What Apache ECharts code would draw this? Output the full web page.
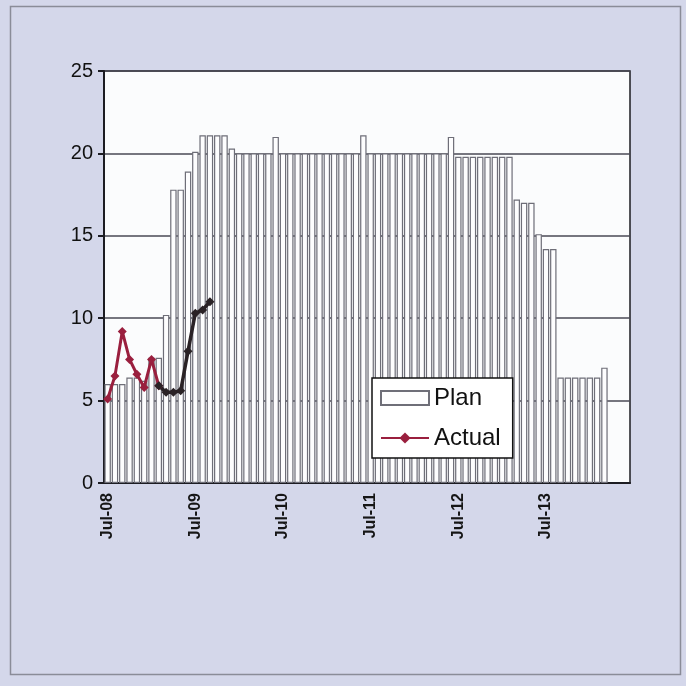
<!DOCTYPE html>
<html>
<head>
<meta charset="utf-8">
<script src="https://cdn.jsdelivr.net/npm/echarts@6/dist/echarts.min.js"></script>
<style>
html,body{margin:0;padding:0;background:#d4d7ea;}
#c{width:686px;height:686px;}
</style>
</head>
<body>
<div id="c"></div>
<script>
const months = [
 'Jul-08','Aug-08','Sep-08','Oct-08','Nov-08','Dec-08','Jan-09','Feb-09','Mar-09','Apr-09','May-09','Jun-09',
 'Jul-09','Aug-09','Sep-09','Oct-09','Nov-09','Dec-09','Jan-10','Feb-10','Mar-10','Apr-10','May-10','Jun-10',
 'Jul-10','Aug-10','Sep-10','Oct-10','Nov-10','Dec-10','Jan-11','Feb-11','Mar-11','Apr-11','May-11','Jun-11',
 'Jul-11','Aug-11','Sep-11','Oct-11','Nov-11','Dec-11','Jan-12','Feb-12','Mar-12','Apr-12','May-12','Jun-12',
 'Jul-12','Aug-12','Sep-12','Oct-12','Nov-12','Dec-12','Jan-13','Feb-13','Mar-13','Apr-13','May-13','Jun-13',
 'Jul-13','Aug-13','Sep-13','Oct-13','Nov-13','Dec-13','Jan-14','Feb-14','Mar-14','Apr-14','May-14','Jun-14'
];
const plan = [
 6.0, 6.0, 6.0, 6.4, 6.4, 6.2, 7.6, 7.6, 10.2, 17.8, 17.8, 18.9,
 20.1, 21.1, 21.1, 21.1, 21.1, 20.3, 20.0, 20.0, 20.0, 20.0, 20.0, 21.0,
 20.0, 20.0, 20.0, 20.0, 20.0, 20.0, 20.0, 20.0, 20.0, 20.0, 20.0, 21.1,
 20.0, 20.0, 20.0, 20.0, 20.0, 20.0, 20.0, 20.0, 20.0, 20.0, 20.0, 21.0,
 19.8, 19.8, 19.8, 19.8, 19.8, 19.8, 19.8, 19.8, 17.2, 17.0, 17.0, 15.1,
 14.2, 14.2, 6.4, 6.4, 6.4, 6.4, 6.4, 6.4, 7.0
];
// Actual values, month by month from Jul-08
const actual = [5.1, 6.5, 9.2, 7.5, 6.6, 5.8, 7.5, 5.9, 5.5, 5.5, 5.6, 8.0, 10.3, 10.5, 11.0];
// In the print the first stretch of the Actual line is maroon, the rest is almost black
const actualRedEnd = 7;
const yTicks = [0, 5, 10, 15, 20, 25];
const labelMonths = ['Jul-08','Jul-09','Jul-10','Jul-11','Jul-12','Jul-13'];

const actualRed = actual.map((v, i) => i <= actualRedEnd ? v : null);
const actualDark = actual.map((v, i) => i >= actualRedEnd ? v : null);

const FONT = 'Liberation Sans, Arial, sans-serif';
const chart = echarts.init(document.getElementById('c'));
chart.setOption({
  animation: false,
  backgroundColor: '#d4d7ea',
  textStyle: {fontFamily: FONT},
  graphic: [{
    type: 'rect', left: 8, top: 4, shape: {width: 670, height: 668},
    style: {fill: 'none', stroke: '#8a8c98', lineWidth: 1.5}, silent: true, z: -1
  }],
  grid: {
    left: 104, right: 56, top: 71, bottom: 203,
    show: true, backgroundColor: '#fbfcfd', borderColor: '#1c1c22', borderWidth: 1.5
  },
  legend: {
    orient: 'vertical', left: 372, top: 378,
    padding: [8, 12, 8, 8], backgroundColor: '#ffffff',
    borderColor: '#111', borderWidth: 1.5,
    itemWidth: 48, itemHeight: 14, itemGap: 16,
    textStyle: {fontSize: 24, color: '#111', fontFamily: FONT},
    data: [
      {name: 'Plan', icon: 'rect'},
      {name: 'Actual'}
    ]
  },
  xAxis: {
    type: 'category', data: months,
    boundaryGap: true,
    axisLine: {lineStyle: {color: '#1c1c22', width: 2}},
    axisTick: {show: false},
    axisLabel: {
      rotate: 90, fontSize: 16, fontWeight: 'bold', color: '#161616', margin: 10,
      interval: function(i, v){ return labelMonths.indexOf(v) >= 0; }
    },
    splitLine: {show: false}
  },
  yAxis: {
    type: 'value', min: yTicks[0], max: yTicks[yTicks.length - 1], interval: 5,
    axisLine: {show: true, lineStyle: {color: '#1c1c22', width: 2}},
    axisTick: {show: true, length: 6, lineStyle: {color: '#1c1c22', width: 2}},
    axisLabel: {fontSize: 20, color: '#111', margin: 11},
    splitLine: {show: true, lineStyle: {color: '#4a4a55', width: 1.5}}
  },
  series: [
    {
      name: 'Plan', type: 'bar', data: plan,
      barCategoryGap: '12%',
      itemStyle: {color: '#fdfdfe', borderColor: '#6e6e78', borderWidth: 1.2},
      z: 2
    },
    {
      name: 'Actual', type: 'line', data: actualRed,
      symbol: 'diamond', symbolSize: 9, showSymbol: true, showAllSymbol: true,
      lineStyle: {width: 3, color: '#9a1f3e'},
      itemStyle: {color: '#9a1f3e'},
      connectNulls: false,
      z: 5
    },
    {
      name: 'Actual', type: 'line', data: actualDark,
      symbol: 'diamond', symbolSize: 9, showSymbol: true, showAllSymbol: true,
      lineStyle: {width: 3.5, color: '#2a2226'},
      itemStyle: {color: '#2a2226'},
      connectNulls: false,
      z: 5
    }
  ]
});
</script>
</body>
</html>
